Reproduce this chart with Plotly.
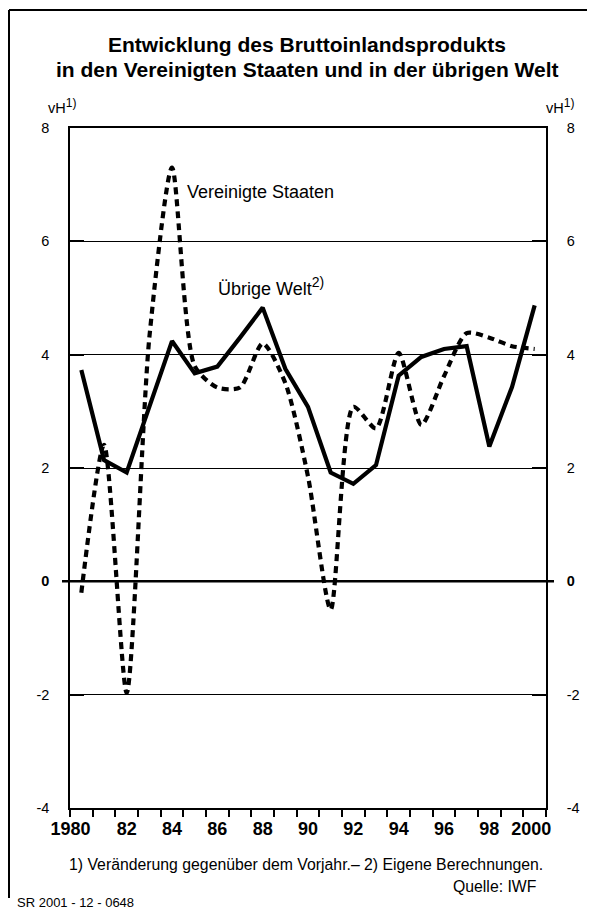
import plotly.graph_objects as go

# ---- data ----
years = list(range(1980, 2001))
welt = [3.73, 2.14, 1.92, 3.1, 4.24, 3.67, 3.79, 4.3, 4.83, 3.75, 3.08,
        1.92, 1.72, 2.05, 3.63, 3.96, 4.10, 4.15, 2.38, 3.43, 4.87]
usa = [-0.2, 2.41, -1.97, 4.3, 7.3, 3.8, 3.42, 3.42, 4.2, 3.5, 1.85,
       -0.5, 3.08, 2.7, 4.03, 2.76, 3.62, 4.38, 4.3, 4.15, 4.1]
x_tick_years = [1980, 1982, 1984, 1986, 1988, 1990, 1992, 1994, 1996, 1998, 2000]
x_tick_labels = ["1980", "82", "84", "86", "88", "90", "92", "94", "96", "98", "2000"]
y_ticks = [-4, -2, 0, 2, 4, 6, 8]
y_tick_labels = ["-4", "-2", "<b>0</b>", "2", "4", "6", "8"]

# page is offset by the 8px body margin of the html page
OFF = 8
PAGE_W, PAGE_H = 595, 910
PL, PR, PT, PB = 70, 546, 128, 808          # plot box in page pixels
W, H = PAGE_W - OFF, PAGE_H - OFF
L, T = PL - OFF, PT - OFF
R, B = W - (PR - OFF), H - (PB - OFF)
FONT = "Liberation Sans, Arial, Helvetica, sans-serif"


def px(xp):
    return (xp - PL) / (PR - PL)


def py(yp):
    return (PB - yp) / (PB - PT)


fig = go.Figure()
fig.add_trace(go.Scatter(
    x=years, y=usa, mode="lines", name="Vereinigte Staaten",
    line=dict(color="black", width=4.2, dash="7px,5px", shape="spline", smoothing=0.7),
    showlegend=False))
fig.add_trace(go.Scatter(
    x=years, y=welt, mode="lines", name="Übrige Welt",
    line=dict(color="black", width=4.2), showlegend=False))
fig.add_trace(go.Scatter(x=[None], y=[None], yaxis="y2", showlegend=False,
                         hoverinfo="skip"))

x_lo, x_hi = years[0] - 0.5, years[-1] + 0.5
# labels: first at the left edge, last slightly inside the last interval
tick_pos = [x_lo + 0.02] + x_tick_years[1:-1] + [x_tick_years[-1] - 0.15]

axis_common = dict(
    range=[-4, 8], tickmode="array", tickvals=y_ticks, ticktext=y_tick_labels,
    ticks="inside", ticklen=14, tickwidth=2, tickcolor="black",
    tickfont=dict(family=FONT, size=14.5, color="black"),
    showline=True, linecolor="black", linewidth=1.5,
    zeroline=False, fixedrange=True,
)

fig.update_layout(
    width=W, height=H,
    margin=dict(l=L, r=R, t=T, b=B, autoexpand=False),
    paper_bgcolor="white", plot_bgcolor="white",
    font=dict(family=FONT, color="black"),
    xaxis=dict(
        range=[x_lo, x_hi], tickmode="array", tickvals=tick_pos, ticktext=x_tick_labels,
        ticks="", showgrid=False, zeroline=False,
        showline=True, linecolor="black", linewidth=1.5, mirror=True,
        tickfont=dict(family=FONT, size=18, color="black", weight="bold"),
        ticklabelstandoff=4,
        minor=dict(tickmode="array", tickvals=[y - 0.5 for y in years] + [x_hi],
                   ticks="outside", ticklen=7, tickwidth=1.5, tickcolor="black",
                   showgrid=False),
    ),
    yaxis=dict(**axis_common, side="left", showgrid=True, gridcolor="black",
               gridwidth=1.2, ticklabelstandoff=16),
    yaxis2=dict(**axis_common, side="right", overlaying="y", showgrid=False,
                ticklabelstandoff=16),
)

# zero line drawn thicker, slightly beyond the frame
fig.add_shape(type="line", xref="paper", yref="y", x0=px(62), x1=px(554), y0=0, y1=0,
              line=dict(color="black", width=2.5))

# outer frame (left + top)
fig.add_shape(type="line", xref="paper", yref="paper",
              x0=px(9), x1=px(9), y0=py(10), y1=py(898),
              line=dict(color="black", width=2))
fig.add_shape(type="line", xref="paper", yref="paper",
              x0=px(9), x1=px(605), y0=py(10), y1=py(10),
              line=dict(color="black", width=2))

SUP = "<sup><span style='font-size:12px'>{}</span></sup>"
ann = [
    dict(text="<b>Entwicklung des Bruttoinlandsprodukts</b>", x=px(307), y=py(44),
         xanchor="center", size=21),
    dict(text="<b>in den Vereinigten Staaten und in der übrigen Welt</b>", x=px(307),
         y=py(69), xanchor="center", size=21),
    dict(text="vH" + SUP.format("1)"), x=px(45.5), y=py(106), xanchor="left", size=14.5),
    dict(text="vH" + SUP.format("1)"), x=px(576), y=py(106), xanchor="right", size=14.5),
    dict(text="Vereinigte Staaten", x=px(185), y=py(192), xanchor="left", size=18),
    dict(text="Übrige Welt<sup><span style='font-size:14px'>2)</span></sup>",
         x=px(215.5), y=py(286), xanchor="left", size=18),
    dict(text="1) Veränderung gegenüber dem Vorjahr.– 2) Eigene Berechnungen.",
         x=px(305.5), y=py(864), xanchor="center", size=15.8),
    dict(text="Quelle: IWF", x=px(538.5), y=py(886), xanchor="right", size=15.8),
    dict(text="SR 2001 - 12 - 0648", x=px(15), y=py(902), xanchor="left", size=13),
]
for a in ann:
    fig.add_annotation(text=a["text"], x=a["x"], y=a["y"], xref="paper", yref="paper",
                       xanchor=a["xanchor"], yanchor="middle", showarrow=False,
                       font=dict(family=FONT, size=a["size"], color="black"))

fig.write_html("out.html")
